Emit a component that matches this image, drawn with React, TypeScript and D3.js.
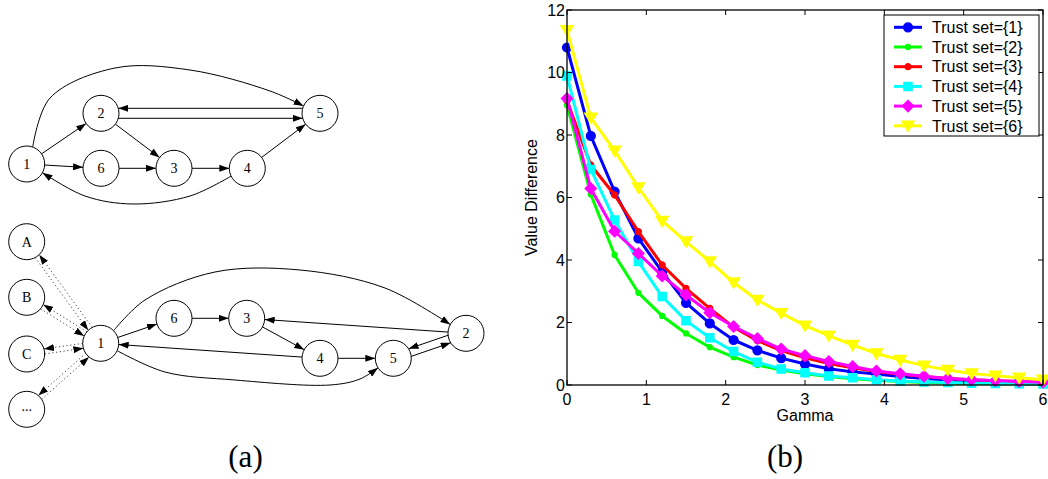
import React from 'react';
import * as d3 from 'd3';

// ---------------- Chart data (b) ----------------
const gammaValues = [0, 0.3, 0.6, 0.9, 1.2, 1.5, 1.8, 2.1, 2.4, 2.7, 3.0, 3.3, 3.6, 3.9, 4.2, 4.5, 4.8, 5.1, 5.4, 5.7, 6.0];
const trustSet1 = [10.8, 7.97, 6.19, 4.69, 3.62, 2.63, 1.97, 1.44, 1.11, 0.86, 0.67, 0.52, 0.42, 0.35, 0.27, 0.21, 0.16, 0.13, 0.11, 0.09, 0.08];
const trustSet2 = [8.95, 6.1, 4.16, 2.95, 2.21, 1.65, 1.21, 0.89, 0.64, 0.48, 0.36, 0.27, 0.2, 0.15, 0.11, 0.08, 0.06, 0.05, 0.04, 0.03, 0.02];
const trustSet3 = [9.1, 7.04, 6.08, 4.91, 3.84, 3.09, 2.45, 1.85, 1.42, 1.1, 0.87, 0.69, 0.55, 0.43, 0.34, 0.27, 0.21, 0.17, 0.14, 0.11, 0.09];
const trustSet4 = [9.89, 6.9, 5.28, 3.95, 2.83, 2.06, 1.51, 1.07, 0.73, 0.51, 0.39, 0.29, 0.23, 0.17, 0.13, 0.1, 0.08, 0.06, 0.05, 0.04, 0.03];
const trustSet5 = [9.17, 6.29, 4.92, 4.21, 3.49, 2.88, 2.31, 1.87, 1.49, 1.15, 0.94, 0.75, 0.59, 0.45, 0.36, 0.28, 0.21, 0.17, 0.14, 0.11, 0.09];
const trustSet6 = [11.35, 8.55, 7.5, 6.32, 5.25, 4.59, 3.95, 3.28, 2.72, 2.3, 1.9, 1.58, 1.28, 1.01, 0.8, 0.62, 0.48, 0.37, 0.3, 0.23, 0.17];
const seriesNames = ['Trust set={1}', 'Trust set={2}', 'Trust set={3}', 'Trust set={4}', 'Trust set={5}', 'Trust set={6}'];
const xTicks = [0, 1, 2, 3, 4, 5, 6];
const yTicks = [0, 2, 4, 6, 8, 10, 12];
const xLabel = 'Gamma';
const yLabel = 'Value Difference';

// ---------------- Diagram data (a) ----------------
const topNodes = ['1', '2', '3', '4', '5', '6'];
const topEdges: [string, string][] = [
  ['1', '2'], ['1', '6'], ['1', '5'], ['5', '2'], ['2', '5'], ['2', '3'], ['6', '3'], ['3', '4'], ['4', '5'], ['4', '1'],
];
const bottomNodes = ['A', 'B', 'C', '...', '1', '2', '3', '4', '5', '6'];
const bottomEdges: [string, string][] = [
  ['1', 'A'], ['A', '1'], ['1', 'B'], ['B', '1'], ['1', 'C'], ['C', '1'], ['1', '...'], ['...', '1'],
  ['1', '6'], ['6', '3'], ['3', '4'], ['4', '5'], ['4', '1'], ['2', '3'], ['2', '5'], ['5', '2'], ['1', '2'], ['1', '5'],
];
const dottedNodes = ['A', 'B', 'C', '...'];
const captions = ['(a)', '(b)'];

// ---------------- Layout / styles ----------------
const W = 1048;
const H = 479;
const SANS = '"Liberation Sans", Arial, Helvetica, sans-serif';
const SERIF = '"Liberation Serif", "Times New Roman", serif';
const NODE_R = 18;

type Pt = [number, number];
const topLayout: Record<string, Pt> = {
  '1': [26.7, 164], '2': [101, 113.3], '6': [101, 168.3], '3': [174, 168.3], '4': [247.3, 168.3], '5': [320, 113.3],
};
const bottomLayout: Record<string, Pt> = {
  'A': [26.7, 241.7], 'B': [26.7, 297.3], 'C': [26.7, 354], '...': [26.7, 409.3],
  '1': [100.7, 343.3], '6': [174, 318.3], '3': [246.7, 318.3], '4': [320, 358.3], '5': [393.3, 358.3], '2': [466, 333.3],
};
type Route = { via?: Pt[]; offset?: number };
const topRoutes: Record<string, Route> = {
  '1-5': { via: [[50, 98], [115, 68], [190, 70], [270, 91]] },
  '5-2': { offset: 5 },
  '2-5': { offset: 5 },
  '4-1': { via: [[190, 196], [133, 204], [85, 196]] },
};
const bottomRoutes: Record<string, Route> = {
  '1-A': { offset: 2.5 }, 'A-1': { offset: 2.5 },
  '1-B': { offset: 2.5 }, 'B-1': { offset: 2.5 },
  '1-C': { offset: 2.5 }, 'C-1': { offset: 2.5 },
  '1-...': { offset: 2.5 }, '...-1': { offset: 2.5 },
  '2-5': { offset: 4 }, '5-2': { offset: 4 },
  '1-2': { via: [[145, 300], [215, 272], [300, 270], [385, 288]] },
  '1-5': { via: [[165, 372], [235, 380], [330, 385], [360, 379]] },
};

const plot = { left: 567, right: 1043, top: 10, bottom: 385 };
const seriesColors = ['#0000ff', '#00ff00', '#ff0000', '#00ffff', '#ff00ff', '#ffff00'];
const seriesMarkers = ['circle', 'dot', 'dot2', 'square', 'diamond', 'tridown'];

function markerPath(kind: string): string {
  switch (kind) {
    case 'circle': return d3.symbol(d3.symbolCircle, 60)() as string;
    case 'dot': return d3.symbol(d3.symbolCircle, 18)() as string;
    case 'dot2': return d3.symbol(d3.symbolCircle, 26)() as string;
    case 'square': return 'M-4,-4L4,-4L4,4L-4,4Z';
    case 'diamond': return 'M0,-5.5L5.5,0L0,5.5L-5.5,0Z';
    case 'tridown': return 'M-6,-4.5L6,-4.5L0,5.5Z';
  }
  return '';
}

function edgeGeom(a: Pt, b: Pt, route: Route | undefined): Pt[] {
  if (route && route.via) {
    const trim = (c: Pt, t: Pt): Pt => {
      const dx = t[0] - c[0], dy = t[1] - c[1];
      const l = Math.hypot(dx, dy);
      return [c[0] + (dx / l) * NODE_R, c[1] + (dy / l) * NODE_R];
    };
    const s = trim(a, route.via[0]);
    const e = trim(b, route.via[route.via.length - 1]);
    return [s, ...route.via, e];
  }
  const o = route && route.offset ? route.offset : 0;
  const dx = b[0] - a[0], dy = b[1] - a[1];
  const l = Math.hypot(dx, dy);
  const ux = dx / l, uy = dy / l;
  const nx = -uy, ny = ux;
  const t = Math.sqrt(NODE_R * NODE_R - o * o);
  return [
    [a[0] + nx * o + ux * t, a[1] + ny * o + uy * t],
    [b[0] + nx * o - ux * t, b[1] + ny * o - uy * t],
  ];
}

const curveLine = d3.line<Pt>().x((d) => d[0]).y((d) => d[1]).curve(d3.curveCatmullRom.alpha(0.5));

function Graph({ nodes, edges, layout, routes }: { nodes: string[]; edges: [string, string][]; layout: Record<string, Pt>; routes: Record<string, Route> }) {
  return (
    <g>
      {edges.map(([f, t], i) => {
        const pts = edgeGeom(layout[f], layout[t], routes[`${f}-${t}`]);
        const dotted = dottedNodes.includes(f) || dottedNodes.includes(t);
        return (
          <path
            key={i}
            d={curveLine(pts) as string}
            fill="none"
            stroke={dotted ? '#444' : '#000'}
            strokeWidth={1}
            strokeDasharray={dotted ? '1.2,2.6' : undefined}
            markerEnd="url(#arrowHead)"
          />
        );
      })}
      {nodes.map((n) => (
        <g key={n} transform={`translate(${layout[n][0]},${layout[n][1]})`}>
          <circle r={NODE_R} fill="#fff" stroke="#000" strokeWidth={1} />
          <text textAnchor="middle" dy={n === '...' ? '0.1em' : '0.35em'} fontFamily={SERIF} fontSize={14} fill="#000">{n}</text>
        </g>
      ))}
    </g>
  );
}

export default function App() {
  const x = d3.scaleLinear().domain([0, 6]).range([plot.left, plot.right]);
  const y = d3.scaleLinear().domain([0, 12]).range([plot.bottom, plot.top]);
  const allSeries = [trustSet1, trustSet2, trustSet3, trustSet4, trustSet5, trustSet6];
  const line = d3.line<number>().x((_, i) => x(gammaValues[i])).y((d) => y(d));
  const legend = { left: 884, right: plot.right - 4, top: 15, bottom: 136, rowH: 19.7, firstRow: 27.3 };

  return (
    <svg width={W} height={H} style={{ position: 'absolute', left: 0, top: 0, background: '#fff' }}>
      <defs>
        <marker id="arrowHead" viewBox="0 0 10 7" refX={10} refY={3.5} markerWidth={10} markerHeight={7} markerUnits="userSpaceOnUse" orient="auto">
          <path d="M0,0L10,3.5L0,7Z" fill="#000" />
        </marker>
      </defs>
      <rect width={W} height={H} fill="#fff" />

      {/* (a) diagrams */}
      <Graph nodes={topNodes} edges={topEdges} layout={topLayout} routes={topRoutes} />
      <Graph nodes={bottomNodes} edges={bottomEdges} layout={bottomLayout} routes={bottomRoutes} />

      {/* (b) chart */}
      <g>
        {allSeries.map((s, si) => (
          <g key={si}>
            <path d={line(s) as string} fill="none" stroke={seriesColors[si]} strokeWidth={3} strokeLinejoin="round" />
            {s.map((v, i) => (
              <path key={i} d={markerPath(seriesMarkers[si])} transform={`translate(${x(gammaValues[i])},${y(v)})`} fill={seriesColors[si]} stroke={seriesColors[si]} strokeWidth={1.5} />
            ))}
          </g>
        ))}
        {/* axes box */}
        <rect x={plot.left} y={plot.top} width={plot.right - plot.left} height={plot.bottom - plot.top} fill="none" stroke="#000" strokeWidth={1.3} />
        {xTicks.map((t) => (
          <g key={`x${t}`}>
            <line x1={x(t)} x2={x(t)} y1={plot.bottom} y2={plot.bottom - 5} stroke="#000" strokeWidth={1} />
            <line x1={x(t)} x2={x(t)} y1={plot.top} y2={plot.top + 5} stroke="#000" strokeWidth={1} />
            <text x={x(t)} y={405} textAnchor="middle" fontFamily={SANS} fontSize={16} fill="#000">{t}</text>
          </g>
        ))}
        {yTicks.map((t) => (
          <g key={`y${t}`}>
            <line x1={plot.left} x2={plot.left + 5} y1={y(t)} y2={y(t)} stroke="#000" strokeWidth={1} />
            <line x1={plot.right} x2={plot.right - 5} y1={y(t)} y2={y(t)} stroke="#000" strokeWidth={1} />
            <text x={565} y={y(t)} dy="0.36em" textAnchor="end" fontFamily={SANS} fontSize={16} fill="#000">{t}</text>
          </g>
        ))}
        <text x={(plot.left + plot.right) / 2} y={421} textAnchor="middle" fontFamily={SANS} fontSize={16} fill="#000">{xLabel}</text>
        <text transform={`translate(537,${(plot.top + plot.bottom) / 2}) rotate(-90)`} textAnchor="middle" fontFamily={SANS} fontSize={16} fill="#000">{yLabel}</text>

        {/* legend */}
        <rect x={legend.left} y={legend.top} width={legend.right - legend.left} height={legend.bottom - legend.top} fill="#fff" stroke="#000" strokeWidth={1} />
        {seriesNames.map((name, i) => {
          const ly = legend.firstRow + i * legend.rowH;
          return (
            <g key={name}>
              <line x1={894} x2={922} y1={ly} y2={ly} stroke={seriesColors[i]} strokeWidth={3} />
              <path d={markerPath(seriesMarkers[i])} transform={`translate(908,${ly})`} fill={seriesColors[i]} stroke={seriesColors[i]} strokeWidth={1.5} />
              <text x={932} y={ly} dy="0.36em" fontFamily={SANS} fontSize={16} fill="#000">{name}</text>
            </g>
          );
        })}
      </g>

      {/* captions */}
      <text x={245.5} y={467} textAnchor="middle" fontFamily={SERIF} fontSize={31} fill="#000">{captions[0]}</text>
      <text x={785} y={467} textAnchor="middle" fontFamily={SERIF} fontSize={31} fill="#000">{captions[1]}</text>
    </svg>
  );
}
